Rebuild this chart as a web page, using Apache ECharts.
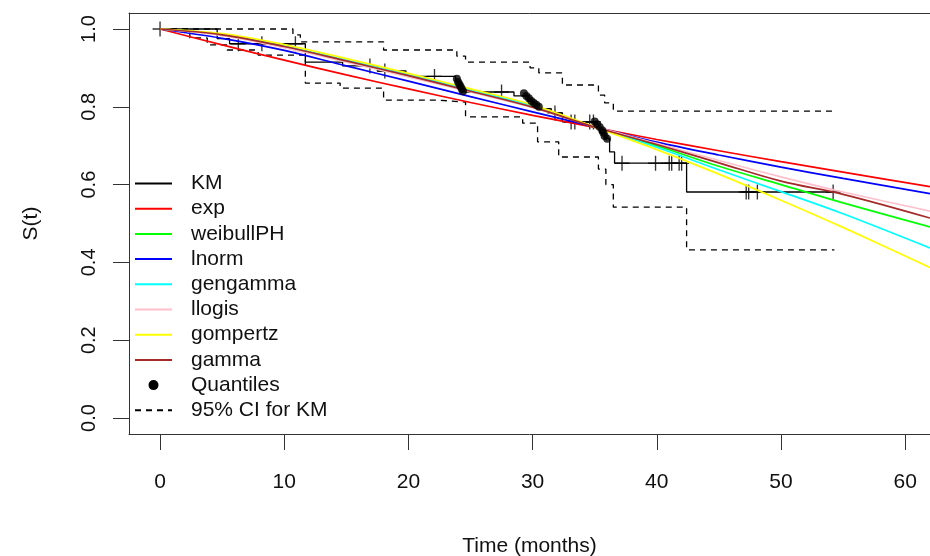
<!DOCTYPE html>
<html>
<head>
<meta charset="utf-8">
<script src="https://cdn.jsdelivr.net/npm/echarts@6/dist/echarts.min.js"></script>
<style>
  html, body { margin: 0; padding: 0; background: #fff; }
  #chart { width: 930px; height: 556px; }
</style>
</head>
<body>
<div id="chart"></div>
<script>
// Kaplan-Meier estimate (step times / survival after the step)
const kmTime = [0, 4.6, 5.6, 11.7, 14.7, 17.5, 19.8, 23.8, 24.1, 24.4, 28.5, 29.6, 30.0, 30.4, 31.5, 32.4, 35.0, 35.4, 35.8, 36.2, 36.6, 42.4, 54.3]
const kmSurv = [1.0, 0.975, 0.962, 0.915, 0.905, 0.892, 0.878, 0.865, 0.852, 0.838, 0.828, 0.815, 0.805, 0.795, 0.784, 0.761, 0.748, 0.733, 0.718, 0.684, 0.655, 0.581, 0.581]

// censoring marks
const censTime = [0, 6.3, 8.2, 10.9, 16.9, 18.1, 22.1, 27.5, 31.8, 33.1, 33.4, 34.6, 34.9, 37.2, 39.9, 41.0, 41.2, 41.8, 42.0, 47.2, 47.4, 48.1, 54.2]
const censSurv = [1.0, 0.962, 0.962, 0.962, 0.905, 0.892, 0.878, 0.838, 0.784, 0.761, 0.761, 0.761, 0.761, 0.655, 0.655, 0.655, 0.655, 0.655, 0.655, 0.581, 0.581, 0.581, 0.581]

// 95% CI for KM
const upTime = [0, 10.7, 11.3, 18.0, 23.9, 24.6, 29.8, 30.5, 32.4, 35.3, 35.8, 36.5, 54.3]
const upSurv = [1.0, 0.985, 0.967, 0.946, 0.93, 0.915, 0.9, 0.887, 0.856, 0.83, 0.81, 0.789, 0.789]
const loTime = [0, 2.4, 3.8, 5.4, 7.9, 11.7, 14.5, 18.0, 22.5, 24.6, 29.2, 30.4, 32.1, 35.3, 35.9, 36.5, 42.4, 54.3]
const loSurv = [1.0, 0.977, 0.959, 0.946, 0.933, 0.861, 0.848, 0.817, 0.812, 0.774, 0.758, 0.71, 0.671, 0.64, 0.60, 0.542, 0.432, 0.432]

// quantile points
const qTime = [23.9, 24.0, 24.1, 24.2, 24.3, 24.4, 29.3, 29.5, 29.7, 29.9, 30.1, 30.3, 30.5, 35.0, 35.2, 35.4, 35.6, 35.7, 35.8, 36.0]
const qSurv = [0.872, 0.864, 0.858, 0.852, 0.846, 0.84, 0.835, 0.828, 0.822, 0.815, 0.81, 0.805, 0.8, 0.762, 0.755, 0.748, 0.74, 0.733, 0.725, 0.718]

// fitted parametric curves
const fitTime = [0, 5, 10, 15, 20, 25, 30, 35, 40, 45, 50, 55, 62]
const expS = [1.0, 0.959, 0.92, 0.882, 0.846, 0.811, 0.778, 0.747, 0.716, 0.687, 0.659, 0.632, 0.595]
const weibullPHS = [1.0, 0.985, 0.955, 0.918, 0.88, 0.841, 0.8, 0.748, 0.70, 0.647, 0.6, 0.553, 0.491]
const lnormS = [1.0, 0.976, 0.945, 0.905, 0.866, 0.826, 0.787, 0.748, 0.709, 0.676, 0.645, 0.616, 0.577]
const gengammaS = [1.0, 0.986, 0.956, 0.92, 0.882, 0.843, 0.802, 0.748, 0.696, 0.638, 0.582, 0.525, 0.437]
const llogisS = [1.0, 0.983, 0.952, 0.915, 0.877, 0.838, 0.798, 0.749, 0.706, 0.662, 0.62, 0.581, 0.532]
const gompertzS = [1.0, 0.988, 0.96, 0.924, 0.886, 0.846, 0.805, 0.748, 0.69, 0.627, 0.56, 0.49, 0.387]
const gammaS = [1.0, 0.985, 0.955, 0.918, 0.88, 0.84, 0.799, 0.748, 0.703, 0.656, 0.609, 0.575, 0.514]

const xTicks = [0, 10, 20, 30, 40, 50, 60]
const yTicks = [0, 0.2, 0.4, 0.6, 0.8, 1.0]

const pairs = (xs, ys) => xs.map((x, i) => [x, ys[i]])
const FONT = '"Liberation Sans", Arial, sans-serif'
const AXIS_COLOR = '#333'
const plusIcon = 'path://M-0.09,-1H0.09V-0.09H1V0.09H0.09V1H-0.09V0.09H-1V-0.09H-0.09Z'

const fits = [
  ['exp', expS, '#FF0000'],
  ['weibullPH', weibullPHS, '#00FF00'],
  ['lnorm', lnormS, '#0000FF'],
  ['gengamma', gengammaS, '#00FFFF'],
  ['llogis', llogisS, '#FFC0CB'],
  ['gompertz', gompertzS, '#FFFF00'],
  ['gamma', gammaS, '#A52A2A']
]

const chart = echarts.init(document.getElementById('chart'), null, { renderer: 'canvas' })

const series = [
  {
    name: 'KM', type: 'line', step: 'end', symbol: 'none', z: 2,
    data: pairs(kmTime, kmSurv),
    lineStyle: { color: '#000', width: 1.3 },
    itemStyle: { color: '#000' }
  },
  {
    name: '95% CI for KM', type: 'line', step: 'end', symbol: 'none', z: 2,
    data: pairs(upTime, upSurv),
    lineStyle: { color: '#000', width: 1.3, type: [6, 5] },
    itemStyle: { color: '#000' }
  },
  {
    name: '95% CI for KM', type: 'line', step: 'end', symbol: 'none', z: 2,
    data: pairs(loTime, loSurv),
    lineStyle: { color: '#000', width: 1.3, type: [6, 5] },
    itemStyle: { color: '#000' }
  },
  {
    name: 'censored', type: 'scatter', symbol: plusIcon, symbolSize: 15, z: 3,
    data: pairs(censTime, censSurv),
    itemStyle: { color: '#000' }
  }
]

fits.forEach(([name, vals, color]) => {
  series.push({
    name, type: 'line', smooth: 0.35, symbol: 'none', z: 4,
    data: pairs(fitTime, vals),
    lineStyle: { color, width: 1.7 },
    itemStyle: { color }
  })
})

series.push({
  name: 'Quantiles', type: 'scatter', symbol: 'circle', symbolSize: 8, z: 5,
  data: pairs(qTime, qSurv),
  itemStyle: { color: '#000' }
})

const legendNames = ['KM', 'exp', 'weibullPH', 'lnorm', 'gengamma', 'llogis', 'gompertz', 'gamma', 'Quantiles', '95% CI for KM']

chart.setOption({
  animation: false,
  backgroundColor: '#fff',
  textStyle: { fontFamily: FONT },
  grid: { left: 129, top: 13, right: 0, bottom: 122, show: false, outerBoundsMode: 'none', containLabel: false },
  legend: {
    orient: 'vertical', left: 129, top: 168,
    itemWidth: 37, itemHeight: 10, itemGap: 4.2,
    itemStyle: { opacity: 0 },
    data: legendNames.map(n => n === 'Quantiles'
      ? { name: n, icon: 'circle', itemStyle: { opacity: 1, color: '#000' } }
      : { name: n }),
    textStyle: { fontFamily: FONT, fontSize: 21, color: '#111', padding: [0, 0, 0, 14] },
    selectedMode: false
  },
  xAxis: [
    {
      type: 'value', min: -2.5, max: 62,
      name: 'Time (months)', nameLocation: 'middle', nameGap: 102,
      nameTextStyle: { fontFamily: FONT, fontSize: 21, color: '#111' },
      axisLine: { show: true, onZero: false, lineStyle: { color: AXIS_COLOR } },
      axisTick: { show: true, length: 16, customValues: xTicks, lineStyle: { color: AXIS_COLOR } },
      axisLabel: { customValues: xTicks, margin: 38, fontFamily: FONT, fontSize: 21, color: '#111' },
      splitLine: { show: false }
    },
    {
      // top edge of the plot box
      type: 'value', position: 'top', min: -2.5, max: 62,
      axisLine: { show: true, onZero: false, lineStyle: { color: AXIS_COLOR } },
      axisTick: { show: false }, axisLabel: { show: false }, splitLine: { show: false }
    }
  ],
  yAxis: {
    type: 'value', min: -0.0411, max: 1.0411,
    name: 'S(t)', nameLocation: 'middle', nameGap: 87,
    nameTextStyle: { fontFamily: FONT, fontSize: 21, color: '#111' },
    axisLine: { show: true, onZero: false, lineStyle: { color: AXIS_COLOR } },
    axisTick: { show: true, length: 16, customValues: yTicks, lineStyle: { color: AXIS_COLOR } },
    axisLabel: {
      customValues: yTicks, rotate: 90, margin: 30,
      fontFamily: FONT, fontSize: 20, color: '#111',
      formatter: v => v.toFixed(1)
    },
    splitLine: { show: false }
  },
  series
})
</script>
</body>
</html>
